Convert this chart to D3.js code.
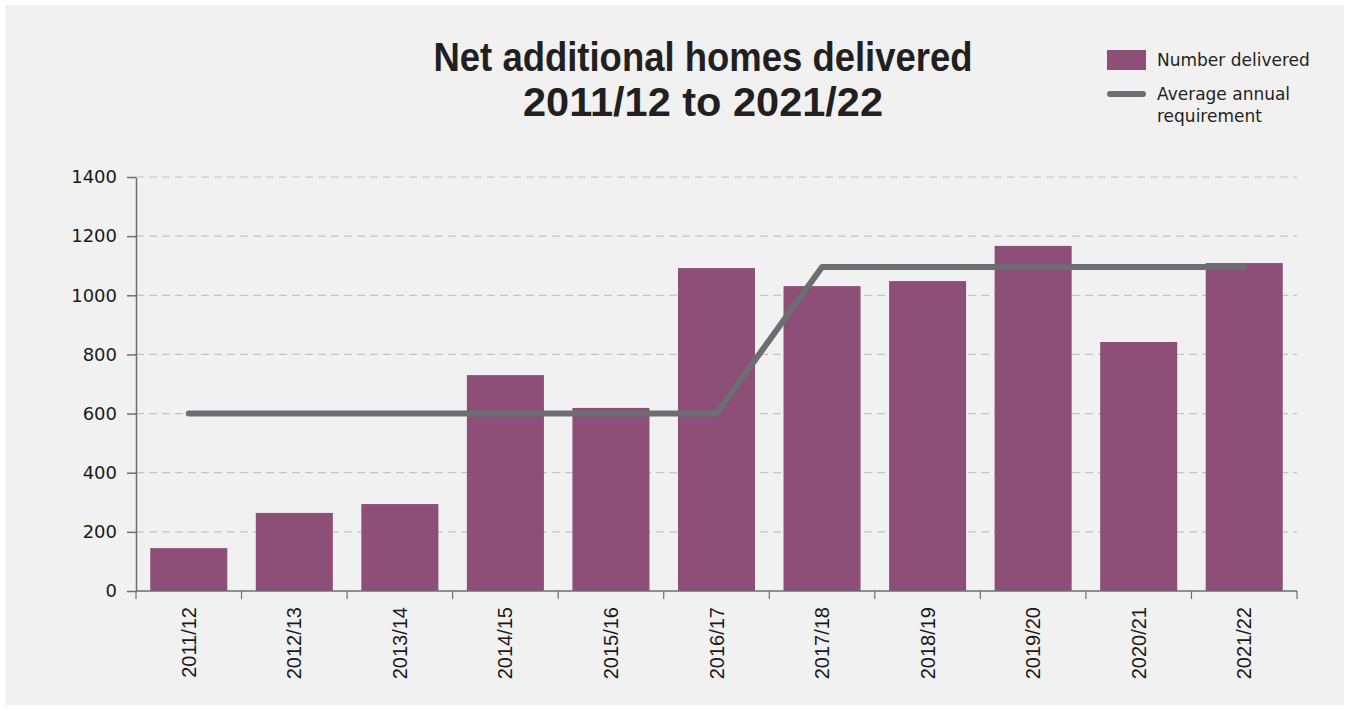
<!DOCTYPE html>
<html>
<head>
<meta charset="utf-8">
<script src="https://cdn.jsdelivr.net/npm/d3@7"></script>
<style>
  html, body { margin: 0; padding: 0; background: #ffffff; }
  svg { display: block; }
</style>
</head>
<body>
<svg id="chart" width="1349" height="711"></svg>
<script>
const categories = ["2011/12","2012/13","2013/14","2014/15","2015/16","2016/17","2017/18","2018/19","2019/20","2020/21","2021/22"];
const delivered = [145, 264, 294, 730, 619, 1092, 1031, 1048, 1167, 842, 1109];
const requirement = [600, 600, 600, 600, 600, 600, 1096, 1096, 1096, 1096, 1096];
const yTicks = [0, 200, 400, 600, 800, 1000, 1200, 1400];
const titleLines = ["Net additional homes delivered", "2011/12 to 2021/22"];
const legendLabels = ["Number delivered", ["Average annual", "requirement"]];

const barColor = "#8d4e77";
const lineColor = "#6d6e71";
const svg = d3.select("#chart");

svg.append("rect").attr("x", 5).attr("y", 5).attr("width", 1339).attr("height", 700).attr("fill", "#f1f1f1");

const margin = { left: 136, right: 1297, top: 177, bottom: 591 };
const x = d3.scaleBand().domain(categories).range([margin.left, margin.right]).paddingInner(0.27).paddingOuter(0.135);
const xb = d3.scaleBand().domain(categories).range([margin.left, margin.right]);
const y = d3.scaleLinear().domain([0, 1400]).range([margin.bottom, margin.top]);

// gridlines
svg.append("g").selectAll("line").data(yTicks.filter(d => d > 0)).join("line")
  .attr("x1", margin.left).attr("x2", margin.right)
  .attr("y1", d => y(d)).attr("y2", d => y(d))
  .attr("stroke", "#c4c4c4").attr("stroke-width", 1.2).attr("stroke-dasharray", "8,5");

// bars
svg.append("g").selectAll("rect").data(categories).join("rect")
  .attr("x", d => x(d)).attr("width", x.bandwidth())
  .attr("y", (d, i) => y(delivered[i])).attr("height", (d, i) => y(0) - y(delivered[i]))
  .attr("fill", barColor);

// line
const line = d3.line().x((d, i) => xb(categories[i]) + xb.bandwidth() / 2).y(d => y(d));
svg.append("path").datum(requirement).attr("d", line)
  .attr("fill", "none").attr("stroke", lineColor).attr("stroke-width", 6)
  .attr("stroke-linecap", "round").attr("stroke-linejoin", "round");

// y axis
const yAxis = svg.append("g").attr("transform", `translate(${margin.left},0)`)
  .call(d3.axisLeft(y).tickValues(yTicks).tickFormat(d3.format("d")).tickSize(9).tickPadding(10).tickSizeOuter(0));
yAxis.select(".domain").attr("stroke", "#6d6e71").attr("stroke-width", 1.5);
yAxis.selectAll(".tick line").attr("stroke", "#6d6e71").attr("stroke-width", 1.5);
yAxis.selectAll("text").attr("font-family", "'DejaVu Sans', sans-serif").attr("font-size", 18).attr("fill", "#1a1a1a");

// x axis: ticks at band boundaries
const xAxisG = svg.append("g");
xAxisG.append("line").attr("x1", margin.left).attr("x2", margin.right)
  .attr("y1", y(0)).attr("y2", y(0)).attr("stroke", "#6d6e71").attr("stroke-width", 1.5);
const bounds = categories.map(c => xb(c)).concat([margin.right]);
xAxisG.selectAll("line.t").data(bounds).join("line").attr("class", "t")
  .attr("x1", d => d).attr("x2", d => d).attr("y1", y(0)).attr("y2", y(0) + 8)
  .attr("stroke", "#6d6e71").attr("stroke-width", 1.2);
xAxisG.selectAll("text").data(categories).join("text")
  .attr("transform", d => `translate(${xb(d) + xb.bandwidth() / 2 + 7},${y(0) + 16}) rotate(-90)`)
  .attr("text-anchor", "end")
  .attr("font-family", "'Liberation Sans', Arial, sans-serif").attr("font-size", 20).attr("fill", "#1a1a1a")
  .text(d => d);

// title
const titleWidths = [539, 360];
svg.append("g").selectAll("text").data(titleLines).join("text")
  .attr("x", 703).attr("y", (d, i) => 71 + i * 45)
  .attr("text-anchor", "middle")
  .attr("font-family", "'Liberation Sans', Arial, sans-serif").attr("font-weight", "bold").attr("font-size", 40)
  .attr("textLength", (d, i) => titleWidths[i]).attr("lengthAdjust", "spacingAndGlyphs")
  .attr("fill", "#231f20").text(d => d);

// legend
const lg = svg.append("g");
lg.append("rect").attr("x", 1107).attr("y", 50).attr("width", 39).attr("height", 20).attr("fill", barColor);
lg.append("text").attr("x", 1157).attr("y", 66).text(legendLabels[0]);
lg.append("line").attr("x1", 1110).attr("x2", 1143).attr("y1", 94).attr("y2", 94)
  .attr("stroke", lineColor).attr("stroke-width", 6).attr("stroke-linecap", "round");
lg.append("text").attr("x", 1157).attr("y", 100).text(legendLabels[1][0]);
lg.append("text").attr("x", 1157).attr("y", 122).text(legendLabels[1][1]);
lg.selectAll("text").attr("font-family", "'DejaVu Sans', sans-serif").attr("font-size", 17).attr("fill", "#231f20");
</script>
</body>
</html>
